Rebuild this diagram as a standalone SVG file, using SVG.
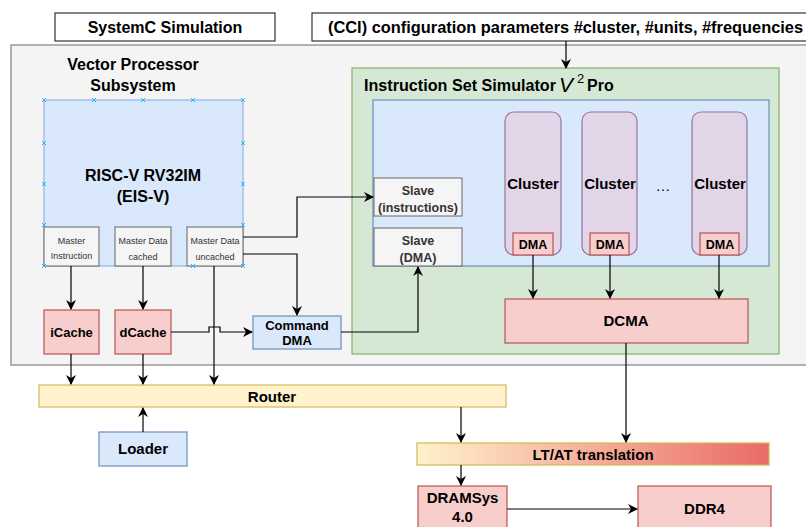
<svg xmlns="http://www.w3.org/2000/svg" width="806" height="527" viewBox="0 0 806 527">
  <defs>
    <marker id="arrow" viewBox="0 0 10 10" refX="9" refY="5" markerWidth="10" markerHeight="10" markerUnits="userSpaceOnUse" orient="auto">
      <path d="M0,0 L10,5 L0,10 L3,5 Z" fill="#000"/>
    </marker>
    <linearGradient id="ltat" x1="0" y1="0" x2="1" y2="0">
      <stop offset="0" stop-color="#fff2cc"/>
      <stop offset="1" stop-color="#ea6b66"/>
    </linearGradient>
    <style>
      text { font-family: "Liberation Sans", Arial, sans-serif; fill: #000; }
      .b { font-weight: bold; }
      .t16 { font-size: 16px; }
      .t15 { font-size: 15px; }
      .t13 { font-size: 13px; }
      .small { font-size: 9px; fill: #333; }
      .slv { font-size: 12.5px; font-weight: bold; fill: #333; }
      .plain { fill: #fff; stroke: #333; stroke-width: 1.2; }
      .grey { fill: #f5f5f5; stroke: #666; stroke-width: 1; }
      .outer { fill: #f4f4f4; stroke: #999; stroke-width: 1.5; }
      .green { fill: #d5e8d4; stroke: #82b366; stroke-width: 1.2; }
      .blue { fill: #dae8fc; stroke: #6c8ebf; stroke-width: 1.2; }
      .cpu { fill: #dae8fc; stroke: #8fb4e8; stroke-width: 1.2; }
      .red { fill: #f8cecc; stroke: #b85450; stroke-width: 1.2; }
      .purple { fill: #e1d5e7; stroke: #9673a6; stroke-width: 1.2; }
      .yellow { fill: #fff2cc; stroke: #d6b656; stroke-width: 1.2; }
      .edge { fill: none; stroke: #000; stroke-width: 1.2; }
      .pt { stroke: #29b6f2; stroke-width: 1; fill: none; }
    </style>
  </defs>

  <rect width="806" height="527" fill="#fff"/>

  <!-- top labels -->
  <g id="systemc">
    <rect class="plain" x="55" y="13" width="220" height="28"/>
    <text class="b t16" x="165" y="33" text-anchor="middle">SystemC Simulation</text>
  </g>
  <g id="cci">
    <rect class="plain" x="312" y="13" width="510" height="28"/>
    <text class="b t16" x="328" y="33" textLength="475" lengthAdjust="spacingAndGlyphs">(CCI) configuration parameters #cluster, #units, #frequencies</text>
  </g>

  <!-- subsystem container -->
  <g id="vps">
    <rect class="outer" x="11" y="45" width="810" height="320"/>
    <text class="b t16" x="133" y="70" text-anchor="middle">Vector Processor</text>
    <text class="b t16" x="133" y="91" text-anchor="middle">Subsystem</text>
  </g>

  <g id="iss">
    <rect class="green" x="352" y="68" width="427" height="286"/>
    <text class="b t16" x="364" y="91" textLength="192" lengthAdjust="spacingAndGlyphs">Instruction Set Simulator</text>
    <text x="559" y="92" font-family="'Liberation Serif', 'DejaVu Serif', serif" font-style="italic" font-size="21">V</text>
    <text x="577" y="83" font-family="'Liberation Serif', 'DejaVu Serif', serif" font-size="13">2</text>
    <text class="b t16" x="587" y="91">Pro</text>
  </g>

  <g id="iss-core">
    <rect class="blue" x="373" y="100" width="396" height="166" stroke="#7d9ccb"/>
  </g>

  <g id="slave-instr">
    <rect class="grey" x="374" y="178" width="88" height="38"/>
    <text class="slv" x="418" y="195" text-anchor="middle">Slave</text>
    <text class="slv" x="418" y="212" text-anchor="middle">(instructions)</text>
  </g>
  <g id="slave-dma">
    <rect class="grey" x="374" y="228" width="88" height="38"/>
    <text class="slv" x="418" y="245" text-anchor="middle">Slave</text>
    <text class="slv" x="418" y="262" text-anchor="middle">(DMA)</text>
  </g>

  <g id="cluster1">
    <rect class="purple" x="505" y="112" width="56" height="143" rx="9"/>
    <text class="b t15" x="533" y="189" text-anchor="middle">Cluster</text>
    <rect class="red" x="513" y="233" width="40" height="22"/>
    <text class="b" font-size="12.5" x="533" y="248.5" text-anchor="middle">DMA</text>
  </g>
  <g id="cluster2">
    <rect class="purple" x="582" y="112" width="55" height="143" rx="9"/>
    <text class="b t15" x="610" y="189" text-anchor="middle">Cluster</text>
    <rect class="red" x="590" y="233" width="39" height="22"/>
    <text class="b" font-size="12.5" x="610" y="248.5" text-anchor="middle">DMA</text>
  </g>
  <text class="t15" x="663" y="191" text-anchor="middle">…</text>
  <g id="cluster3">
    <rect class="purple" x="692" y="112" width="55" height="143" rx="9"/>
    <text class="b t15" x="720" y="189" text-anchor="middle">Cluster</text>
    <rect class="red" x="700" y="233" width="39" height="22"/>
    <text class="b" font-size="12.5" x="720" y="248.5" text-anchor="middle">DMA</text>
  </g>

  <g id="dcma">
    <rect class="red" x="505" y="299" width="243" height="44"/>
    <text class="b t15" x="626" y="326" text-anchor="middle">DCMA</text>
  </g>

  <!-- CPU with its master ports -->
  <g id="cpu">
    <rect class="cpu" x="44" y="100" width="199" height="166"/>
    <text class="b t16" x="143" y="181" text-anchor="middle">RISC-V RV32IM</text>
    <text class="b t16" x="143" y="202" text-anchor="middle">(EIS-V)</text>
  </g>
  <g id="master-instr">
    <rect class="grey" x="44" y="227" width="55" height="39"/>
    <text class="small" x="71.5" y="244" text-anchor="middle">Master</text>
    <text class="small" x="71.5" y="259" text-anchor="middle">Instruction</text>
  </g>
  <g id="master-cached">
    <rect class="grey" x="115" y="227" width="56" height="39"/>
    <text class="small" x="143" y="244" text-anchor="middle">Master Data</text>
    <text class="small" x="143" y="260" text-anchor="middle">cached</text>
  </g>
  <g id="master-uncached">
    <rect class="grey" x="187" y="227" width="56" height="39"/>
    <text class="small" x="215" y="244" text-anchor="middle">Master Data</text>
    <text class="small" x="215" y="260" text-anchor="middle">uncached</text>
  </g>
  <!-- connection points of the CPU shape -->
  <g id="cpu-points" class="pt">
    <path d="M42,98 l4,4 m0,-4 l-4,4 M92,98 l4,4 m0,-4 l-4,4 M141,98 l4,4 m0,-4 l-4,4 M191,98 l4,4 m0,-4 l-4,4 M241,98 l4,4 m0,-4 l-4,4"/>
    <path d="M42,141 l4,4 m0,-4 l-4,4 M42,182 l4,4 m0,-4 l-4,4 M42,223 l4,4 m0,-4 l-4,4 M42,264 l4,4 m0,-4 l-4,4"/>
    <path d="M241,141 l4,4 m0,-4 l-4,4 M241,182 l4,4 m0,-4 l-4,4 M241,223 l4,4 m0,-4 l-4,4 M241,264 l4,4 m0,-4 l-4,4 M191,264 l4,4 m0,-4 l-4,4"/>
  </g>

  <g id="icache">
    <rect class="red" x="44" y="310" width="55" height="44"/>
    <text class="b t13" x="71.5" y="337" text-anchor="middle">iCache</text>
  </g>
  <g id="dcache">
    <rect class="red" x="115" y="310" width="56" height="44"/>
    <text class="b t13" x="143" y="337" text-anchor="middle">dCache</text>
  </g>
  <g id="cmd-dma">
    <rect class="blue" x="253" y="316" width="88" height="33"/>
    <text class="b t13" x="297" y="329.5" text-anchor="middle">Command</text>
    <text class="b t13" x="297" y="345" text-anchor="middle">DMA</text>
  </g>

  <g id="router">
    <rect class="yellow" x="39" y="385" width="467" height="22"/>
    <text class="b t15" x="272" y="401.5" text-anchor="middle">Router</text>
  </g>
  <g id="loader">
    <rect class="blue" x="99" y="432" width="88" height="34"/>
    <text class="b t15" x="143" y="454" text-anchor="middle">Loader</text>
  </g>

  <g id="ltat">
    <rect x="417" y="443" width="352" height="22" fill="url(#ltat)" stroke="#d6b656" stroke-width="1.2"/>
    <text class="b t15" x="593" y="459.5" text-anchor="middle">LT/AT translation</text>
  </g>
  <g id="dramsys">
    <rect class="red" x="418" y="486" width="89" height="50"/>
    <text class="b t15" x="462.5" y="503" text-anchor="middle">DRAMSys</text>
    <text class="b t15" x="462.5" y="522" text-anchor="middle">4.0</text>
  </g>
  <g id="ddr4">
    <rect class="red" x="638" y="486" width="133" height="50"/>
    <text class="b t15" x="704.5" y="514" text-anchor="middle">DDR4</text>
  </g>

  <!-- connectors -->
  <g id="connectors" class="edge">
    <path d="M566,41 V68" marker-end="url(#arrow)"/>
    <path d="M243,237 H297 V197 H373" marker-end="url(#arrow)"/>
    <path d="M243,254 H297 V315" marker-end="url(#arrow)"/>
    <path d="M341,332 H418 V267" marker-end="url(#arrow)"/>
    <path d="M71,266 V309" marker-end="url(#arrow)"/>
    <path d="M143,266 V309" marker-end="url(#arrow)"/>
    <path d="M214,266 V384" marker-end="url(#arrow)"/>
    <path d="M71,354 V384" marker-end="url(#arrow)"/>
    <path d="M143,354 V384" marker-end="url(#arrow)"/>
    <path d="M171,332 H209 V327 H220 V332 H252" marker-end="url(#arrow)"/>
    <path d="M143,432 V408" marker-end="url(#arrow)"/>
    <path d="M533,255 V298" marker-end="url(#arrow)"/>
    <path d="M610,255 V298" marker-end="url(#arrow)"/>
    <path d="M719,255 V298" marker-end="url(#arrow)"/>
    <path d="M626,343 V442" marker-end="url(#arrow)"/>
    <path d="M461,407 V442" marker-end="url(#arrow)"/>
    <path d="M461,465 V485" marker-end="url(#arrow)"/>
    <path d="M507,509 H637" marker-end="url(#arrow)"/>
  </g>
</svg>
